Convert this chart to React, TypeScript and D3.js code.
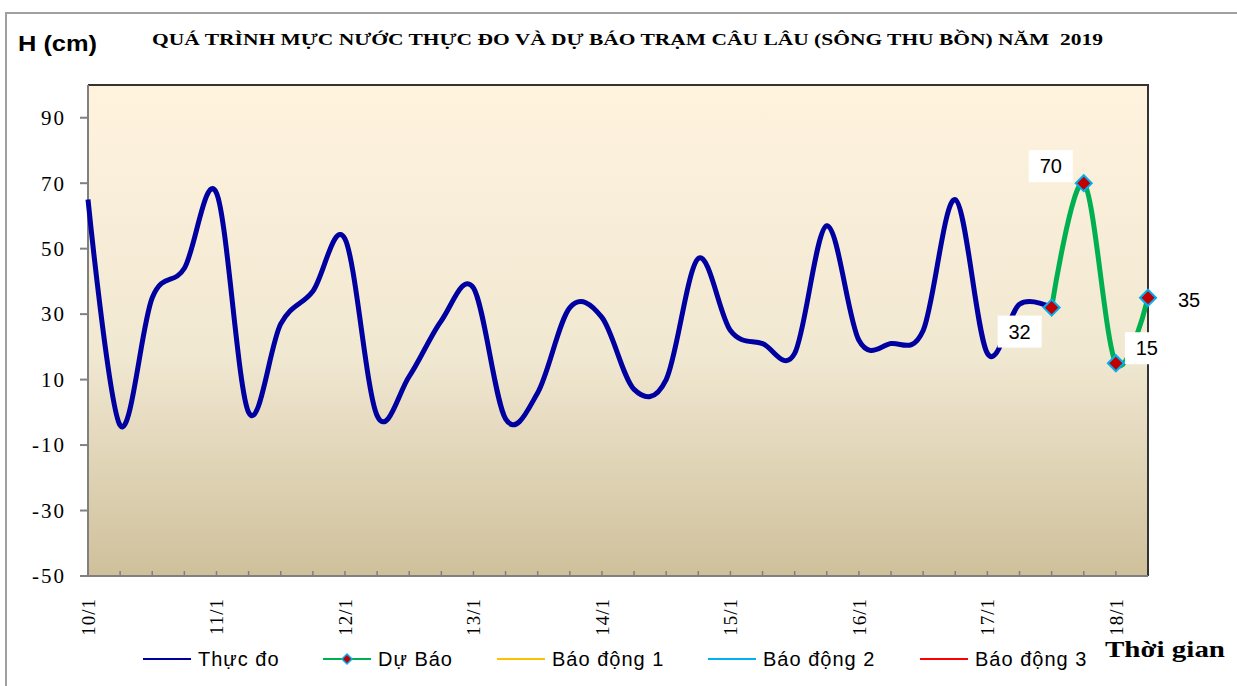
import React from 'react';
import * as d3 from 'd3';

// 6-hourly steps starting 10/1 00h
const dayLabels = ['10/1', '11/1', '12/1', '13/1', '14/1', '15/1', '16/1', '17/1', '18/1'];
const stepsPerDay = 4;

const observed = [
  65, -4, 35, 44, 67, 0, 27, 37, 53, -1, 11, 28, 38, -2, 6, 32,
  29, 7, 10, 47, 25, 21, 18, 57, 22, 21, 25, 65, 18, 33, 32,
];
const forecastStart = 30;
const forecast = [32, 70, 15, 35];

const yTicks = [-50, -30, -10, 10, 30, 50, 70, 90];

const legendItems = [
  { name: 'Thực đo', color: '#0000a0', marker: false },
  { name: 'Dự Báo', color: '#00b050', marker: true },
  { name: 'Báo động 1', color: '#ffc000', marker: false },
  { name: 'Báo động 2', color: '#00b0f0', marker: false },
  { name: 'Báo động 3', color: '#ff0000', marker: false },
];

// data label offsets (moved by hand in the original)
const labelOffsets = [
  { dx: -32, dy: 24, box: true },
  { dx: -33, dy: -17, box: true },
  { dx: 31, dy: -15, box: true },
  { dx: 41, dy: 2, box: false },
];

const W = 1237;
const H = 686;
const margin = { left: 88, top: 85, right: 1148, bottom: 576 };

const serif = '"Liberation Serif", "Times New Roman", serif';
const sans = '"Liberation Sans", Arial, sans-serif';

export default function App() {
  const lastIndex = forecastStart + forecast.length - 1;
  const x = d3.scaleLinear().domain([0, lastIndex]).range([margin.left, margin.right]);
  const y = d3.scaleLinear().domain([-50, 100]).range([margin.bottom, margin.top]);

  const line = d3
    .line<[number, number]>()
    .x(d => x(d[0]))
    .y(d => y(d[1]))
    .curve(d3.curveCardinal.tension(0));

  const obsPts: [number, number][] = observed.map((v, i) => [i, v]);
  const fcPts: [number, number][] = forecast.map((v, i) => [forecastStart + i, v]);

  const diamond = (cx: number, cy: number, r: number) =>
    `M${cx},${cy - r}L${cx + r},${cy}L${cx},${cy + r}L${cx - r},${cy}Z`;

  const legendX = [143, 323, 497, 708, 920];

  return (
    <svg
      width={W}
      height={H}
      style={{ position: 'absolute', left: 0, top: 0, background: '#fff' }}
    >
      <defs>
        <linearGradient id="plotBg" x1="0" y1="0" x2="0" y2="1">
          <stop offset="0" stopColor="#fff3de" />
          <stop offset="0.55" stopColor="#f1e8d2" />
          <stop offset="1" stopColor="#cfc09b" />
        </linearGradient>
      </defs>

      {/* outer frame */}
      <rect x={6} y={13} width={W + 10} height={H + 10} fill="none" stroke="#a0a0a0" strokeWidth={2} />

      <text x={18} y={51} fontFamily={sans} fontWeight="bold" fontSize={22} textLength={79} lengthAdjust="spacingAndGlyphs">
        H (cm)
      </text>
      <text x={152} y={45} fontFamily={serif} fontWeight="bold" fontSize={16} textLength={951} lengthAdjust="spacingAndGlyphs">
        {'QUÁ TRÌNH MỰC NƯỚC THỰC ĐO VÀ DỰ BÁO TRẠM CÂU LÂU (SÔNG THU BỒN) NĂM \u00a02019'}
      </text>

      {/* plot area */}
      <rect
        x={margin.left}
        y={margin.top}
        width={margin.right - margin.left}
        height={margin.bottom - margin.top}
        fill="url(#plotBg)"
      />
      <path
        d={`M${margin.left},${margin.top}H${margin.right}V${margin.bottom}`}
        fill="none"
        stroke="#333"
        strokeWidth={2}
      />
      <path
        d={`M${margin.left},${margin.top}V${margin.bottom}H${margin.right}`}
        fill="none"
        stroke="#808080"
        strokeWidth={2}
      />

      {/* y axis */}
      {yTicks.map(t => (
        <g key={t}>
          <line x1={margin.left - 8} x2={margin.left} y1={y(t)} y2={y(t)} stroke="#808080" strokeWidth={2} />
          <text
            x={66}
            y={y(t)}
            dy="0.35em"
            textAnchor="end"
            fontFamily={serif}
            fontSize={21}
            letterSpacing={2}
          >
            {t}
          </text>
        </g>
      ))}

      {/* x axis ticks (inside) */}
      {d3.range(1, lastIndex).map(i => (
        <line key={i} x1={x(i)} x2={x(i)} y1={margin.bottom} y2={margin.bottom - 5} stroke="#808080" strokeWidth={1.5} />
      ))}
      {dayLabels.map((lab, k) => {
        const px = x(k * stepsPerDay);
        return (
          <text
            key={lab}
            transform={`translate(${px},598) rotate(-90)`}
            dy="0.35em"
            textAnchor="end"
            fontFamily={serif}
            fontSize={19}
            letterSpacing={1}
          >
            {lab}
          </text>
        );
      })}

      {/* series */}
      <path d={line(obsPts) || ''} fill="none" stroke="#0000a0" strokeWidth={5} strokeLinejoin="round" />
      <path d={line(fcPts) || ''} fill="none" stroke="#00b050" strokeWidth={5} strokeLinejoin="round" />
      {fcPts.map(([i, v]) => (
        <path key={i} d={diamond(x(i), y(v), 8)} fill="#c00000" stroke="#00b0f0" strokeWidth={2} />
      ))}

      {/* data labels */}
      {fcPts.map(([i, v], k) => {
        const o = labelOffsets[k];
        const cx = x(i) + o.dx;
        const cy = y(v) + o.dy;
        return (
          <g key={i}>
            {o.box && <rect x={cx - 22} y={cy - 16} width={44} height={32} fill="#fff" />}
            <text x={cx} y={cy} dy="0.36em" textAnchor="middle" fontFamily={sans} fontSize={20}>
              {v}
            </text>
          </g>
        );
      })}

      {/* legend */}
      {legendItems.map((it, k) => {
        const lx = legendX[k];
        return (
          <g key={it.name}>
            <line x1={lx} x2={lx + 48} y1={659} y2={659} stroke={it.color} strokeWidth={2} />
            {it.marker && <path d={diamond(lx + 24, 659, 5)} fill="#c00000" stroke="#00b0f0" strokeWidth={1.5} />}
            <text x={lx + 55} y={666} fontFamily={sans} fontSize={20} letterSpacing={1}>
              {it.name}
            </text>
          </g>
        );
      })}

      <text x={1105} y={657} fontFamily={serif} fontWeight="bold" fontSize={24} textLength={120} lengthAdjust="spacingAndGlyphs">
        Thời gian
      </text>
    </svg>
  );
}
